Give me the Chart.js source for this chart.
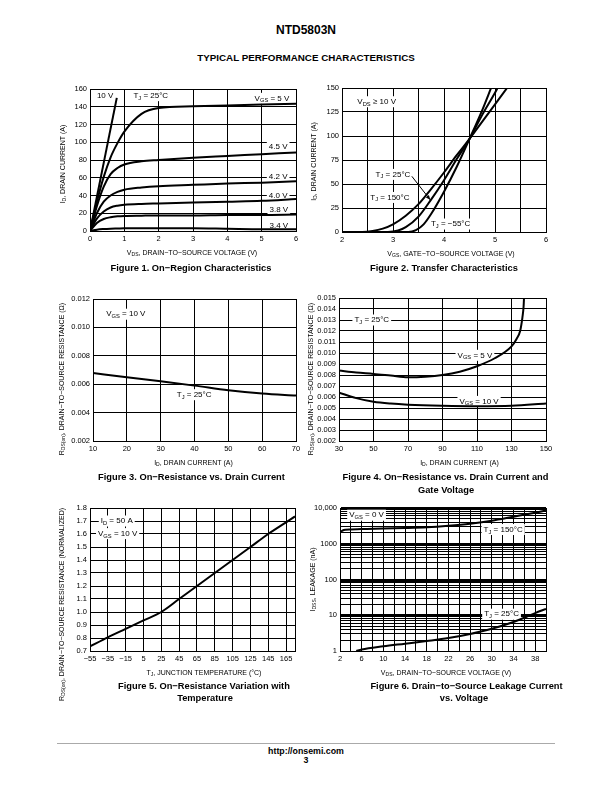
<!DOCTYPE html>
<html>
<head>
<meta charset="utf-8">
<script src="https://cdn.jsdelivr.net/npm/chart.js@4"></script>
<style>
  body { margin: 0; background: #fff; font-family: "Liberation Sans", Arial, Helvetica, sans-serif; }
  #page { position: relative; width: 612px; height: 792px; overflow: hidden; background: #fff; }
  canvas { position: absolute; }
  .txt { position: absolute; white-space: nowrap; color: #000; font-weight: bold; line-height: 1; transform: translate(-50%, -50%); }
  .rule { position: absolute; left: 57px; width: 498px; top: 743px; height: 1px; background: #aaa; }
</style>
</head>
<body>
<div id="page">
  <div class="txt" style="left:306px; top:29.5px; font-size:12px;">NTD5803N</div>
  <div class="txt" style="left:306px; top:57.5px; font-size:9.8px;">TYPICAL PERFORMANCE CHARACTERISTICS</div>

  <canvas id="fig1"></canvas>
  <canvas id="fig2"></canvas>
  <canvas id="fig3"></canvas>
  <canvas id="fig4"></canvas>
  <canvas id="fig5"></canvas>
  <canvas id="fig6"></canvas>

  <div class="txt" style="left:191px; top:268.5px; font-size:9.3px;">Figure 1. On−Region Characteristics</div>
  <div class="txt" style="left:444px; top:268.5px; font-size:9.3px;">Figure 2. Transfer Characteristics</div>
  <div class="txt" style="left:191.5px; top:478px; font-size:9.3px;">Figure 3. On−Resistance vs. Drain Current</div>
  <div class="txt" style="left:445.5px; top:478px; font-size:9.3px;">Figure 4. On−Resistance vs. Drain Current and</div>
  <div class="txt" style="left:446px; top:490.5px; font-size:9.3px;">Gate Voltage</div>
  <div class="txt" style="left:204px; top:686.5px; font-size:9.3px;">Figure 5. On−Resistance Variation with</div>
  <div class="txt" style="left:205px; top:699px; font-size:9.3px;">Temperature</div>
  <div class="txt" style="left:466.5px; top:686.5px; font-size:9.3px;">Figure 6. Drain−to−Source Leakage Current</div>
  <div class="txt" style="left:464px; top:699px; font-size:9.3px;">vs. Voltage</div>

  <div class="rule"></div>
  <div class="txt" style="left:306px; top:750.5px; font-size:8.8px;">http://onsemi.com</div>
  <div class="txt" style="left:306px; top:759.5px; font-size:8.8px;">3</div>
</div>
<script>
// Figure 1: on-region characteristics
const f1Vds = [0, 0.2, 0.4, 0.6, 0.8, 1.0, 1.5, 2, 3, 4, 5, 6];
const f1Id5V = [0, 33, 61, 83, 99, 112, 132, 138.5, 140.5, 141.5, 142.5, 143.5];
const f1Id45V = [0, 28, 50, 64, 71, 75, 78.5, 80, 82.5, 84.5, 86.5, 88.5];
const f1Id42V = [0, 20, 33, 40, 44, 46.5, 49, 50.5, 52, 53.5, 54.5, 56];
const f1Id40V = [0, 14, 22, 26.5, 28.5, 29.5, 30.5, 31, 32, 33, 34, 36];
const f1Id38V = [0, 9, 13.5, 15.5, 16.5, 17, 17.3, 17.5, 17.5, 18, 18, 18.5];
const f1Id34V = [0, 1.5, 2.2, 2.6, 2.8, 3, 3, 3, 3, 2.5, 2, 2];
const f1Vds10V = [0, 0.78];
const f1Id10V = [0, 150];
const f1XTicks = [0, 1, 2, 3, 4, 5, 6];
const f1YTicks = [0, 20, 40, 60, 80, 100, 120, 140, 160];

// Figure 2: transfer characteristics
const f2Vgs150 = [2, 2.4, 2.6, 2.8, 3.0, 3.25, 3.5, 3.75, 4.0, 4.25, 4.5, 4.75, 5.0, 5.25];
const f2Id150 = [0, 0, 1, 3.5, 8, 17, 29, 45, 62, 80, 97, 115, 133, 151];
const f2Vgs25 = [2, 2.9, 3.1, 3.25, 3.5, 3.75, 4.0, 4.25, 4.5, 4.75, 5.0, 5.06];
const f2Id25 = [0, 0, 1.5, 5, 16, 34, 54, 76, 97, 122, 145, 151];
const f2VgsM55 = [2, 3.3, 3.45, 3.6, 3.75, 4.0, 4.25, 4.5, 4.75, 4.93];
const f2IdM55 = [0, 0, 2, 8, 19, 42, 68, 97, 127, 151];
const f2XTicks = [2, 2.5, 3, 3.5, 4, 4.5, 5, 5.5, 6];
const f2YTicks = [0, 25, 50, 75, 100, 125, 150];

// Figure 3: on-resistance vs drain current
const f3Id = [10, 20, 30, 40, 50, 60, 70];
const f3Rds = [0.00679, 0.00649, 0.0062, 0.0059, 0.00557, 0.00534, 0.0052];
const f3XTicks = [10, 20, 30, 40, 50, 60, 70];
const f3YTicks = [0.002, 0.004, 0.006, 0.008, 0.010, 0.012];

// Figure 4: on-resistance vs drain current and gate voltage
const f4Id5V = [30, 40, 50, 60, 70, 80, 90, 100, 110, 120, 130, 133, 135, 136.3, 137, 137.3];
const f4Rds5V = [0.0084, 0.00822, 0.0081, 0.00795, 0.0078, 0.00785, 0.008, 0.0083, 0.0088, 0.0095, 0.0106, 0.0113, 0.012, 0.0132, 0.0142, 0.0152];
const f4Id10V = [30, 40, 50, 60, 70, 90, 110, 130, 150];
const f4Rds10V = [0.0064, 0.0059, 0.00557, 0.0054, 0.0053, 0.0052, 0.00516, 0.0052, 0.00542];
const f4XTicks = [30, 50, 70, 90, 110, 130, 150];
const f4YTicks = [0.002, 0.003, 0.004, 0.005, 0.006, 0.007, 0.008, 0.009, 0.010, 0.011, 0.012, 0.013, 0.014, 0.015];

// Figure 5: on-resistance vs temperature
const f5Tj = [-55, -35, -15, 5, 25, 45, 65, 85, 105, 125, 145, 165, 175];
const f5Rnorm = [0.735, 0.805, 0.87, 0.935, 1.0, 1.1, 1.2, 1.3, 1.4, 1.5, 1.6, 1.69, 1.735];
const f5XTicks = [-55, -35, -15, 5, 25, 45, 65, 85, 105, 125, 145, 165, 175];
const f5YTicks = [0.7, 0.8, 0.9, 1.0, 1.1, 1.2, 1.3, 1.4, 1.5, 1.6, 1.7, 1.8];

// Figure 6: leakage current vs voltage
const f6Vds150 = [2, 2.5, 3, 4, 6, 10, 14, 18, 22, 26, 30, 34, 38, 40];
const f6Idss150 = [2100, 2350, 2450, 2500, 2580, 2650, 2750, 2900, 3200, 3650, 4400, 5700, 7400, 8500];
const f6Vds25 = [5, 6, 10, 14, 18, 22, 26, 30, 34, 36, 38, 40];
const f6Idss25 = [1.0, 1.1, 1.35, 1.6, 1.9, 2.3, 3.0, 4.2, 6.5, 8.5, 11.5, 15];
const f6XTicks = [2, 4, 6, 8, 10, 12, 14, 16, 18, 20, 22, 24, 26, 28, 30, 32, 34, 36, 38, 40];
const f6Decades = [1, 10, 100, 1000];

const FONT = '"Liberation Sans", Arial, Helvetica, sans-serif';
Chart.defaults.font.family = FONT;
Chart.defaults.color = '#000';

const EXTRAS = {};

// text with {subscript} parts, drawn centred on y
function segs(s) {
  const out = [];
  const re = /([^{]+)|\{([^}]*)\}/g;
  let m;
  while ((m = re.exec(s))) out.push(m[1] !== undefined ? { t: m[1], sub: false } : { t: m[2], sub: true });
  return out;
}
function measure(ctx, s, size) {
  let w = 0;
  segs(s).forEach(g => {
    ctx.font = (g.sub ? size * 0.72 : size) + 'px ' + FONT;
    w += ctx.measureText(g.t).width;
  });
  return w;
}
function drawText(ctx, s, x, y, size) {
  let cx = x - measure(ctx, s, size) / 2;
  ctx.textAlign = 'left';
  ctx.textBaseline = 'middle';
  segs(s).forEach(g => {
    ctx.font = (g.sub ? size * 0.72 : size) + 'px ' + FONT;
    ctx.fillText(g.t, cx, g.sub ? y + size * 0.3 : y);
    cx += ctx.measureText(g.t).width;
  });
}

const extrasPlugin = {
  id: 'extras',
  beforeDatasetsDraw(chart) {
    const e = EXTRAS[chart.canvas.id];
    const ctx = chart.ctx, sx = chart.scales.x, sy = chart.scales.y;
    ctx.save();
    e.labels.forEach(l => {
      const x = sx.getPixelForValue(l.x), y = sy.getPixelForValue(l.y);
      const w = measure(ctx, l.t, 8);
      ctx.fillStyle = '#fff';
      ctx.fillRect(x - w / 2 - 2, y - 5.5, w + 4, 11);
      ctx.fillStyle = '#000';
      drawText(ctx, l.t, x, y, 8);
    });
    ctx.restore();
  },
  afterDatasetsDraw(chart) {
    const e = EXTRAS[chart.canvas.id];
    const ctx = chart.ctx, a = chart.chartArea, sx = chart.scales.x, sy = chart.scales.y;
    ctx.save();
    ctx.strokeStyle = '#000';
    ctx.fillStyle = '#000';
    ctx.lineWidth = 1;
    ctx.strokeRect(Math.round(a.left - 0.5) + 0.5, Math.round(a.top - 0.5) + 0.5,
      Math.round(a.right - a.left), Math.round(a.bottom - a.top));
    (e.arrows || []).forEach(r => {
      const x1 = sx.getPixelForValue(r.x1), y1 = sy.getPixelForValue(r.y1);
      const x2 = sx.getPixelForValue(r.x2), y2 = sy.getPixelForValue(r.y2);
      ctx.beginPath(); ctx.moveTo(x1, y1); ctx.lineTo(x2, y2); ctx.stroke();
      const ang = Math.atan2(y2 - y1, x2 - x1), hl = 5;
      ctx.beginPath();
      ctx.moveTo(x2, y2);
      ctx.lineTo(x2 - hl * Math.cos(ang - 0.4), y2 - hl * Math.sin(ang - 0.4));
      ctx.lineTo(x2 - hl * Math.cos(ang + 0.4), y2 - hl * Math.sin(ang + 0.4));
      ctx.closePath(); ctx.fill();
    });
    drawText(ctx, e.xTitle, (a.left + a.right) / 2 + e.xdx, a.bottom + 22, 7);
    ctx.translate(a.left + e.ydx, (a.top + a.bottom) / 2 + e.ydy);
    ctx.rotate(-Math.PI / 2);
    drawText(ctx, e.yTitle, 0, 0, 7);
    ctx.restore();
  }
};

function pts(xs, ys) {
  return xs.map((x, i) => ({ x: x, y: ys[i] }));
}
function curve(xs, ys) {
  return { data: pts(xs, ys), borderColor: '#000', borderWidth: 2, pointRadius: 0, fill: false, cubicInterpolationMode: 'monotone' };
}
function axis(dir, ticks, fmt, extra) {
  return Object.assign({
    type: 'linear',
    min: ticks[0],
    max: ticks[ticks.length - 1],
    afterBuildTicks: s => { s.ticks = ticks.map(v => ({ value: v })); },
    afterFit: s => { if (dir === 'x') s.height = 30; else s.width = 45; },
    grid: { color: '#000', lineWidth: 1, drawTicks: false },
    border: { color: '#000', width: 1 },
    ticks: { autoSkip: false, maxRotation: 0, minRotation: 0, padding: 3, color: '#000', font: { size: 7.5 }, callback: fmt }
  }, extra || {});
}
function makeChart(id, box, datasets, xAxis, yAxis, extras) {
  EXTRAS[id] = extras;
  const cv = document.getElementById(id);
  const w = box.r - box.l + 55, h = box.b - box.t + 85;
  cv.width = w; cv.height = h;
  cv.style.width = w + 'px'; cv.style.height = h + 'px';
  cv.style.left = (box.l - 45) + 'px'; cv.style.top = (box.t - 20) + 'px';
  return new Chart(cv, {
    type: 'line',
    data: { datasets: datasets },
    options: {
      responsive: false,
      animation: false,
      devicePixelRatio: 1,
      events: [],
      layout: { padding: { left: 0, top: 20, right: 10, bottom: 35 } },
      scales: { x: xAxis, y: yAxis },
      plugins: { legend: { display: false }, tooltip: { enabled: false } }
    },
    plugins: [extrasPlugin]
  });
}

const plain = v => String(v);
const minus = v => v < 0 ? '\u2212' + (-v) : String(v);

makeChart('fig1', { l: 90, t: 89, r: 296, b: 231 },
  [curve(f1Vds10V, f1Id10V), curve(f1Vds, f1Id5V), curve(f1Vds, f1Id45V), curve(f1Vds, f1Id42V),
   curve(f1Vds, f1Id40V), curve(f1Vds, f1Id38V), curve(f1Vds, f1Id34V)],
  axis('x', f1XTicks, plain), axis('y', f1YTicks, plain),
  {
    xTitle: 'V{DS}, DRAIN\u2212TO\u2212SOURCE VOLTAGE (V)', xdx: -1,
    yTitle: 'I{D}, DRAIN CURRENT (A)', ydx: -27, ydy: 4,
    labels: [
      { x: 0.44, y: 152, t: '10 V' },
      { x: 1.77, y: 152.5, t: 'T{J} = 25°C' },
      { x: 5.3, y: 149.5, t: 'V{GS} = 5 V' },
      { x: 5.48, y: 95, t: '4.5 V' },
      { x: 5.48, y: 61, t: '4.2 V' },
      { x: 5.48, y: 40, t: '4.0 V' },
      { x: 5.5, y: 23.7, t: '3.8 V' },
      { x: 5.5, y: 6, t: '3.4 V' }
    ]
  });

makeChart('fig2', { l: 342, t: 88, r: 546, b: 232 },
  [curve(f2Vgs150, f2Id150), curve(f2Vgs25, f2Id25), curve(f2VgsM55, f2IdM55)],
  axis('x', f2XTicks, v => Number.isInteger(v) ? String(v) : ''), axis('y', f2YTicks, plain),
  {
    xTitle: 'V{GS}, GATE\u2212TO\u2212SOURCE VOLTAGE (V)', xdx: 7,
    yTitle: 'I{D}, DRAIN CURRENT (A)', ydx: -28, ydy: 1.5,
    labels: [
      { x: 2.68, y: 135.7, t: 'V{DS} \u2265 10 V' },
      { x: 3.0, y: 60, t: 'T{J} = 25°C' },
      { x: 2.94, y: 36, t: 'T{J} = 150°C' },
      { x: 4.13, y: 8.3, t: 'T{J} = \u221255°C' }
    ],
    arrows: [{ x1: 3.37, y1: 58, x2: 3.73, y2: 33.5 }]
  });

makeChart('fig3', { l: 93, t: 299, r: 296, b: 441 },
  [curve(f3Id, f3Rds)],
  axis('x', f3XTicks, plain), axis('y', f3YTicks, v => v.toFixed(3)),
  {
    xTitle: 'I{D}, DRAIN CURRENT (A)', xdx: -1,
    yTitle: 'R{DS(on)}, DRAIN\u2212TO\u2212SOURCE RESISTANCE (\u03A9)', ydx: -31, ydy: 9,
    labels: [
      { x: 19.7, y: 0.01093, t: 'V{GS} = 10 V' },
      { x: 39.9, y: 0.00526, t: 'T{J} = 25°C' }
    ]
  });

makeChart('fig4', { l: 339, t: 298, r: 546, b: 441 },
  [curve(f4Id5V, f4Rds5V), curve(f4Id10V, f4Rds10V)],
  axis('x', f4XTicks, plain), axis('y', f4YTicks, v => v.toFixed(3)),
  {
    xTitle: 'I{D}, DRAIN CURRENT (A)', xdx: 17,
    yTitle: 'R{DS(on)}, DRAIN\u2212TO\u2212SOURCE RESISTANCE (\u03A9)', ydx: -28, ydy: 9.5,
    labels: [
      { x: 49, y: 0.0130, t: 'T{J} = 25°C' },
      { x: 108.8, y: 0.00979, t: 'V{GS} = 5 V' },
      { x: 111.2, y: 0.0056, t: 'V{GS} = 10 V' }
    ]
  });

makeChart('fig5', { l: 90, t: 508, r: 295, b: 651 },
  [curve(f5Tj, f5Rnorm)],
  axis('x', f5XTicks, v => v === 175 ? '' : minus(v)), axis('y', f5YTicks, v => v.toFixed(1)),
  {
    xTitle: 'T{J}, JUNCTION TEMPERATURE (°C)', xdx: 11.5,
    yTitle: 'R{DS(on)}, DRAIN\u2212TO\u2212SOURCE RESISTANCE (NORMALIZED)', ydx: -28, ydy: 25,
    labels: [
      { x: -25, y: 1.7, t: 'I{D} = 50 A' },
      { x: -24, y: 1.603, t: 'V{GS} = 10 V' }
    ]
  });

const f6YTicks = [];
f6Decades.forEach(d => { for (let k = 1; k < 10; k++) f6YTicks.push(d * k); });
f6YTicks.push(10000);

makeChart('fig6', { l: 340, t: 508, r: 546, b: 651 },
  [curve(f6Vds150, f6Idss150), curve(f6Vds25, f6Idss25)],
  axis('x', f6XTicks, v => ((v - 2) % 4 === 0 && v < 40) ? String(v) : ''),
  axis('y', f6YTicks, v => v === 10000 ? '10,000' : (f6Decades.includes(v) ? String(v) : ''), {
    type: 'logarithmic',
    min: 1,
    max: 10000,
    grid: {
      color: '#000', drawTicks: false,
      lineWidth: c => (c.tick && [10, 100, 1000, 10000].includes(c.tick.value)) ? 2 : 1
    }
  }),
  {
    xTitle: 'V{DS}, DRAIN\u2212TO\u2212SOURCE VOLTAGE (V)', xdx: 3,
    yTitle: 'I{DSS}, LEAKAGE (nA)', ydx: -27, ydy: 0,
    labels: [
      { x: 6.9, y: 6300, t: 'V{GS} = 0 V' },
      { x: 32.1, y: 2500, t: 'T{J} = 150°C' },
      { x: 31.8, y: 10.7, t: 'T{J} = 25°C' }
    ]
  });
</script>
</body>
</html>
